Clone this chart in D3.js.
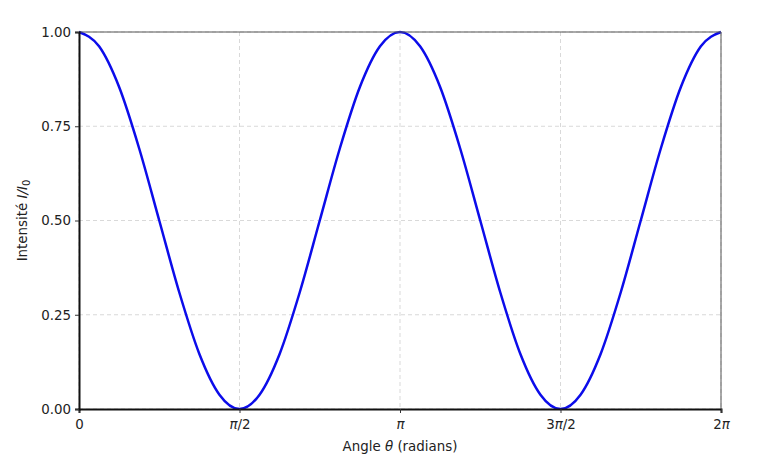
<!DOCTYPE html>
<html>
<head>
<meta charset="utf-8">
<script src="https://cdn.jsdelivr.net/npm/d3@7"></script>
<style>
  body { margin: 0; background: #fff; }
  text { font-family: "DejaVu Sans", sans-serif; fill: #222; }
</style>
</head>
<body>
<div class="chart"></div>
<script>
var svgWidth = 766;
var svgHeight = 458;

var margin = { top: 32, right: 45, bottom: 49, left: 79 };
var width = svgWidth - margin.left - margin.right;
var height = svgHeight - margin.top - margin.bottom;

// angle samples, in multiples of pi/16
var steps = d3.range(0, 33);
// intensity at each step
var intensity = [
  1.000, 0.962, 0.854, 0.691, 0.500, 0.309, 0.146, 0.038,
  0.000, 0.038, 0.146, 0.309, 0.500, 0.691, 0.854, 0.962,
  1.000, 0.962, 0.854, 0.691, 0.500, 0.309, 0.146, 0.038,
  0.000, 0.038, 0.146, 0.309, 0.500, 0.691, 0.854, 0.962,
  1.000
];

var xTicks = [0, Math.PI / 2, Math.PI, 3 * Math.PI / 2, 2 * Math.PI];
var xTickLabels = [["0", ""], ["π", "/2"], ["π", ""], ["3", "π", "/2"], ["2", "π"]];
var yTicks = [0, 0.25, 0.5, 0.75, 1.0];

var fontSize = 13.4;

var svg = d3.select(".chart")
  .append("svg")
  .attr("width", svgWidth)
  .attr("height", svgHeight);

var chartGroup = svg.append("g")
  .attr("transform", `translate(${margin.left}, ${margin.top})`);

var xScale = d3.scaleLinear().domain([0, 2 * Math.PI]).range([0, width]);
var yScale = d3.scaleLinear().domain([0, 1]).range([height, 0]);

// grid
chartGroup.append("g").selectAll("line")
  .data(xTicks)
  .enter()
  .append("line")
  .attr("x1", d => xScale(d)).attr("x2", d => xScale(d))
  .attr("y1", 0).attr("y2", height)
  .attr("stroke", "#cfcfcf").attr("stroke-width", 0.8)
  .attr("stroke-dasharray", "4,3");

chartGroup.append("g").selectAll("line")
  .data(yTicks)
  .enter()
  .append("line")
  .attr("x1", 0).attr("x2", width)
  .attr("y1", d => yScale(d)).attr("y2", d => yScale(d))
  .attr("stroke", "#cfcfcf").attr("stroke-width", 0.8)
  .attr("stroke-dasharray", "4,3");

// curve
var points = steps.map((s, i) => [s * Math.PI / 16, intensity[i]]);
var line = d3.line()
  .x(d => xScale(d[0]))
  .y(d => yScale(d[1]))
  .curve(d3.curveMonotoneX);

chartGroup.append("path")
  .datum(points)
  .attr("d", line)
  .attr("fill", "none")
  .attr("stroke", "#0c0cea")
  .attr("stroke-width", 2.5);

// top / right spines
chartGroup.append("line")
  .attr("x1", 0).attr("x2", width).attr("y1", 0).attr("y2", 0)
  .attr("stroke", "#555").attr("stroke-width", 1);
chartGroup.append("line")
  .attr("x1", width).attr("x2", width).attr("y1", 0).attr("y2", height)
  .attr("stroke", "#555").attr("stroke-width", 1);

// axes
var xAxis = d3.axisBottom(xScale).tickValues(xTicks).tickSize(4).tickPadding(5).tickFormat("");
var yAxis = d3.axisLeft(yScale).tickValues(yTicks).tickSize(4).tickPadding(4).tickFormat(d3.format(".2f"));

var gx = chartGroup.append("g")
  .attr("transform", `translate(0, ${height})`)
  .call(xAxis);
var gy = chartGroup.append("g").call(yAxis);

[gx, gy].forEach(function(g) {
  g.select(".domain").attr("stroke", "#111").attr("stroke-width", 2);
  g.selectAll(".tick line").attr("stroke", "#333").attr("stroke-width", 1);
  g.selectAll("text").attr("font-family", "DejaVu Sans").attr("font-size", fontSize).attr("fill", "#222");
});

// x tick labels with italic pi
gx.selectAll(".tick").each(function(d, i) {
  var t = d3.select(this).select("text")
    .attr("y", 20).attr("dy", null);
  t.selectAll("tspan")
    .data(xTickLabels[i])
    .enter()
    .append("tspan")
    .attr("font-style", s => s === "π" ? "italic" : "normal")
    .text(s => s);
});

// axis labels
var xLabel = chartGroup.append("text")
  .attr("x", width / 2)
  .attr("y", height + 42)
  .attr("text-anchor", "middle")
  .attr("font-size", fontSize);
xLabel.append("tspan").text("Angle ");
xLabel.append("tspan").attr("font-style", "italic").text("θ");
xLabel.append("tspan").text(" (radians)");

var yLabel = chartGroup.append("text")
  .attr("transform", "rotate(-90)")
  .attr("x", -height / 2)
  .attr("y", -52)
  .attr("text-anchor", "middle")
  .attr("font-size", fontSize);
yLabel.append("tspan").text("Intensité ");
yLabel.append("tspan").attr("font-style", "italic").text("I/I");
yLabel.append("tspan").attr("font-size", 10).attr("dy", 3).text("0");
</script>
</body>
</html>
